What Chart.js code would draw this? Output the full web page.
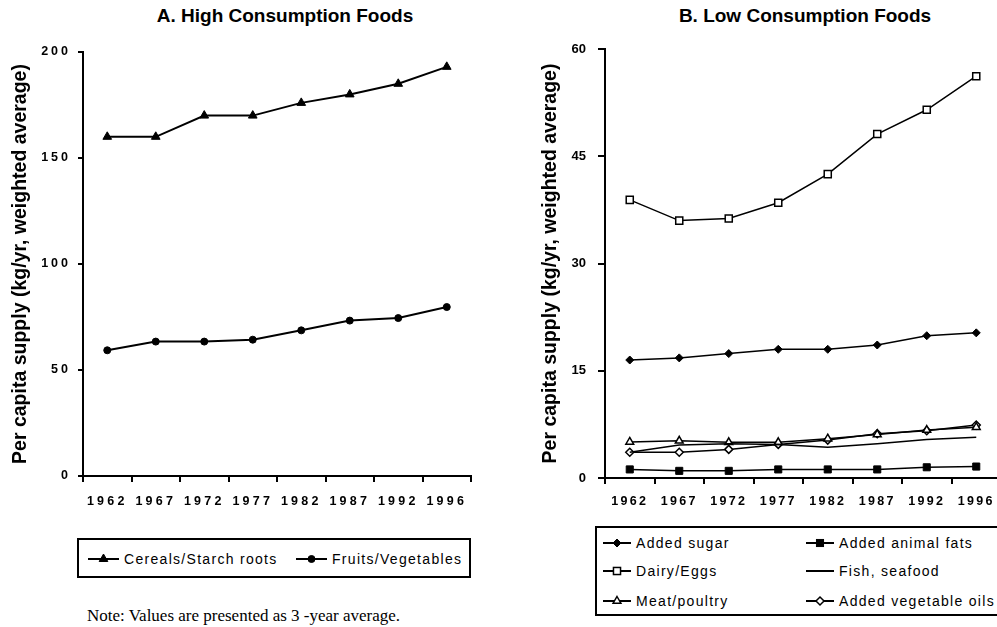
<!DOCTYPE html>
<html>
<head>
<meta charset="utf-8">
<script src="https://cdn.jsdelivr.net/npm/chart.js@4.4.0/dist/chart.umd.min.js"></script>
<style>
  html, body { margin: 0; padding: 0; background: #fff; }
  body { width: 997px; height: 627px; overflow: hidden; position: relative; font-family: "Liberation Sans", Arial, sans-serif; color: #000; }
  canvas { position: absolute; top: 0; }
  #chartA { left: 0; }
  #chartB { left: 497px; }
  .title { position: absolute; top: 5.6px; font-weight: bold; font-size: 19px; line-height: 19px; white-space: nowrap; transform: translateX(-50%); }
  .legend { position: absolute; border: 2px solid #000; box-sizing: border-box; }
  .item { position: absolute; height: 20px; display: flex; align-items: center; font-size: 14px; letter-spacing: 1.3px; white-space: nowrap; }
  .item svg { margin-right: 5px; }
  .note { position: absolute; left: 87px; top: 607px; font-family: "Liberation Serif", "Times New Roman", serif; font-size: 17px; line-height: 17px; white-space: nowrap; }
</style>
</head>
<body>
<div class="title" style="left:285px">A. High Consumption Foods</div>
<div class="title" style="left:805px">B. Low Consumption Foods</div>
<canvas id="chartA" width="490" height="520"></canvas>
<canvas id="chartB" width="520" height="520"></canvas>
<div class="legend" id="legendA" style="left:77px; top:538px; width:394px; height:40px;"></div>
<div class="legend" id="legendB" style="left:595px; top:526px; width:412px; height:90px;"></div>
<div class="note">Note: Values are presented as 3 -year average.</div>

<script>
const years = ["1962", "1967", "1972", "1977", "1982", "1987", "1992", "1996"];

// A. high consumption foods (kg/yr)
const cereals = [160, 160, 170, 170, 176, 180, 185, 193];
const fruitsVeg = [59.3, 63.4, 63.4, 64.3, 68.7, 73.3, 74.5, 79.7];
const highTicks = [0, 50, 100, 150, 200];

// B. low consumption foods (kg/yr)
const addedSugar = [16.5, 16.8, 17.4, 18.0, 18.0, 18.6, 19.9, 20.3];
const animalFats = [1.2, 1.0, 1.0, 1.2, 1.2, 1.2, 1.5, 1.6];
const dairyEggs = [38.9, 36.0, 36.3, 38.5, 42.5, 48.1, 51.5, 56.2];
const fishSeafood = [3.6, 4.6, 4.8, 4.7, 4.3, 4.8, 5.4, 5.7];
const meatPoultry = [5.05, 5.2, 5.0, 5.0, 5.5, 6.1, 6.7, 7.1];
const vegOils = [3.6, 3.6, 4.0, 4.7, 5.3, 6.2, 6.6, 7.4];
const lowTicks = [0, 15, 30, 45, 60];

const FONT = "'Liberation Sans', Arial, sans-serif";
const Y_TITLE = "Per capita supply (kg/yr, weighted average)";

// letter-spaced tick labels (the original uses spread digits)
function spacedTicks(spacing) {
  return {
    id: "spacedTicks",
    beforeDraw(chart) {
      Object.keys(spacing).forEach(id => {
        const scale = chart.scales[id];
        if (!scale || scale._spaced) return;
        const orig = scale.drawLabels.bind(scale);
        scale.drawLabels = function (area) {
          const ctx = chart.ctx;
          const prev = ctx.letterSpacing;
          ctx.letterSpacing = spacing[id];
          orig(area);
          ctx.letterSpacing = prev;
        };
        scale._spaced = true;
      });
    }
  };
}

function series(label, data, style, filled, radius, width) {
  return {
    label: label,
    data: data,
    borderColor: "#000",
    borderWidth: width || 2,
    fill: false,
    tension: 0,
    pointStyle: style || false,
    pointRadius: style ? radius : 0,
    pointBackgroundColor: filled ? "#000" : "#fff",
    pointBorderColor: "#000",
    pointBorderWidth: filled ? 1 : 1.5
  };
}

function xScale(fontSize, pad, height) {
  return {
    type: "category",
    offset: true,
    grid: { offset: true, drawOnChartArea: false, drawTicks: true, tickLength: 6, color: "#000", lineWidth: 2 },
    border: { color: "#000", width: 2 },
    ticks: { color: "#000", font: { family: FONT, size: fontSize, weight: "bold" }, padding: pad, maxRotation: 0, autoSkip: false },
    afterFit(s) { s.height = height; }
  };
}

function yScale(tickList, fontSize, tickLen, pad, titlePad, width) {
  return {
    min: tickList[0],
    max: tickList[tickList.length - 1],
    afterBuildTicks(s) { s.ticks = tickList.map(v => ({ value: v })); },
    grid: { drawOnChartArea: false, drawTicks: true, tickLength: tickLen, color: "#000", lineWidth: 2 },
    border: { color: "#000", width: 2 },
    ticks: { color: "#000", font: { family: FONT, size: fontSize, weight: "bold" }, padding: pad },
    title: { display: true, text: Y_TITLE, color: "#000", font: { family: FONT, size: 19.5, weight: "bold" }, padding: { top: titlePad, bottom: 0 } },
    afterFit(s) { s.width = width; }
  };
}

const common = {
  responsive: false,
  animation: false,
  plugins: { legend: { display: false }, tooltip: { enabled: false }, title: { display: false } }
};

const chartA = new Chart(document.getElementById("chartA"), {
  type: "line",
  data: {
    labels: years,
    datasets: [
      series("Cereals/Starch roots", cereals, "triangle", true, 5),
      series("Fruits/Vegetables", fruitsVeg, "circle", true, 3.5)
    ]
  },
  options: Object.assign({}, common, {
    layout: { padding: { top: 52, right: 19, bottom: 0, left: 0 } },
    scales: {
      x: xScale(12.5, 12, 44),
      y: yScale(highTicks, 12.5, 5, 7, 8.8, 83)
    }
  }),
  plugins: [spacedTicks({ x: "3.2px", y: "3px" })]
});

const chartB = new Chart(document.getElementById("chartB"), {
  type: "line",
  data: {
    labels: years,
    datasets: [
      series("Added sugar", addedSugar, "rectRot", true, 4, 1.5),
      series("Added animal fats", animalFats, "rect", true, 5, 1.5),
      series("Dairy/Eggs", dairyEggs, "rect", false, 5, 1.5),
      series("Fish, seafood", fishSeafood, false, false, 0, 1.5),
      series("Meat/poultry", meatPoultry, "triangle", false, 4.5, 1.5),
      series("Added vegetable oils", vegOils, "rectRot", false, 4, 1.5)
    ]
  },
  options: Object.assign({}, common, {
    layout: { padding: { top: 49, right: 16, bottom: 0, left: 0 } },
    scales: {
      x: xScale(12.5, 10, 42),
      y: yScale(lowTicks, 13, 7, 12, 41.8, 108)
    }
  }),
  plugins: [spacedTicks({ x: "2.3px" })]
});

// html legends with line + marker samples
function markerSvg(ds, w) {
  const h = 12, cx = w / 2, cy = h / 2, r = ds.pointRadius;
  const fill = ds.pointBackgroundColor, sw = ds.pointBorderWidth;
  let m = "";
  if (ds.pointStyle === "circle") {
    m = `<circle cx="${cx}" cy="${cy}" r="${r}" fill="${fill}" stroke="#000" stroke-width="${sw}"/>`;
  } else if (ds.pointStyle === "triangle") {
    const a = r * 0.866;
    m = `<polygon points="${cx},${cy - r} ${cx + a},${cy + r / 2} ${cx - a},${cy + r / 2}" fill="${fill}" stroke="#000" stroke-width="${sw}"/>`;
  } else if (ds.pointStyle === "rect") {
    const s = r * 0.707;
    m = `<rect x="${cx - s}" y="${cy - s}" width="${2 * s}" height="${2 * s}" fill="${fill}" stroke="#000" stroke-width="${sw}"/>`;
  } else if (ds.pointStyle === "rectRot") {
    m = `<polygon points="${cx},${cy - r} ${cx + r},${cy} ${cx},${cy + r} ${cx - r},${cy}" fill="${fill}" stroke="#000" stroke-width="${sw}"/>`;
  }
  return `<svg width="${w}" height="${h}"><line x1="0" y1="${cy}" x2="${w}" y2="${cy}" stroke="#000" stroke-width="2"/>${m}</svg>`;
}

function buildLegend(chart, boxId, spots, sampleW) {
  const box = document.getElementById(boxId);
  chart.data.datasets.forEach((ds, i) => {
    const item = document.createElement("div");
    item.className = "item";
    item.style.left = spots[i][0] + "px";
    item.style.top = spots[i][1] + "px";
    item.innerHTML = markerSvg(ds, sampleW) + `<span>${ds.label}</span>`;
    box.appendChild(item);
  });
}

buildLegend(chartA, "legendA", [[9, 9], [217, 9]], 31);
buildLegend(chartB, "legendB", [[6, 5], [209, 5], [6, 33], [209, 33], [6, 63], [209, 63]], 28);
</script>
</body>
</html>
